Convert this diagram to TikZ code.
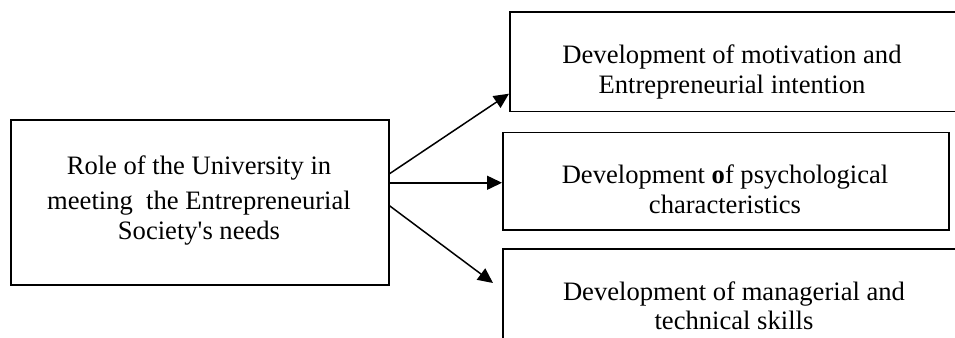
\documentclass[tikz,border=0pt]{standalone}
\usepackage{fontspec}
\setmainfont{Liberation Serif}
\usetikzlibrary{arrows.meta}
\setlength{\lineskiplimit}{-8pt}
\begin{document}
\begin{tikzpicture}[x=0.5pt,y=-0.5pt,
  box/.style={draw,line width=0.75pt,inner sep=0pt,anchor=north west},
  txt/.style={anchor=base,align=center,inner sep=0pt,font=\fontsize{13.3}{14.75}\selectfont},
  arr/.style={line width=0.75pt,-{Triangle[length=7.5pt,width=7pt]}}]
\useasboundingbox (0,0) rectangle (955,338);
% boxes
\node[box,minimum width=189pt,minimum height=82.5pt] (L) at (10,119) {};
\node[box,minimum width=226pt,minimum height=49.75pt] (T) at (509,11) {};
\node[box,minimum width=223pt,minimum height=48.75pt] (M) at (502,131.5) {};
\node[box,minimum width=233pt,minimum height=80pt] (B) at (502,248) {};
% texts (anchored at the baseline of the last line)
\node[txt] (Lt) at (199,239) {Role of the University in\\[2.6pt] meeting\ \ the Entrepreneurial\\ Society\textquotesingle s needs};
\node[txt] (Tt) at (732,93.3) {Development of motivation and\\ Entrepreneurial intention};
\node[txt] (Mt) at (725,213.3) {Development \textbf{o}f psychological\\ characteristics};
\begin{scope}
\clip (502,248) rectangle (955,329.3);
\node[txt] (Bt) at (734,329.5) {Development of managerial and\\ technical skills};
\end{scope}
% arrows
\coordinate (Bend) at (493,283);
\draw[arr] ([yshift=14.25pt]L.east) -- ([yshift=-16.1pt]T.west);
\draw[arr] ([yshift=9.75pt]L.east) -- ([yshift=9.75pt]L.east -| M.west);
\draw[arr] ([yshift=-1.75pt]L.east) -- (Bend);
\end{tikzpicture}
\end{document}
